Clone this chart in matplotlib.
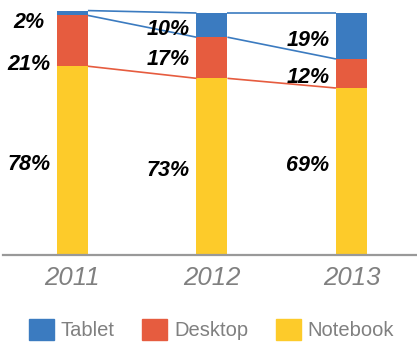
import matplotlib.pyplot as plt
import numpy as np
from matplotlib.patches import Patch

# Share of devices per year (%)
years = ['2011', '2012', '2013']
notebook = [78, 73, 69]
desktop = [21, 17, 12]
tablet = [2, 10, 19]

colors = {'Tablet': '#3b7bc0', 'Desktop': '#e65c3f', 'Notebook': '#fdcb2a'}
label_font = ['Liberation Sans', 'DejaVu Sans']

fig = plt.figure(figsize=(4.17, 3.42), dpi=100)
ax = fig.add_axes([3 / 417, 87 / 342, 414 / 417, 242 / 342])

x = np.arange(len(years))
w = 0.222
nb = np.array(notebook)
dt = np.array(desktop)
tb = np.array(tablet)

ax.bar(x, nb, w, color=colors['Notebook'], clip_on=False)
ax.bar(x, dt, w, bottom=nb, color=colors['Desktop'], clip_on=False)
ax.bar(x, tb, w, bottom=nb + dt, color=colors['Tablet'], clip_on=False)

# series lines between neighbouring bars
for level, c in [(nb, colors['Desktop']), (nb + dt, colors['Tablet']), (nb + dt + tb, colors['Tablet'])]:
    for i in range(len(x) - 1):
        ax.plot([x[i] + w / 2, x[i + 1] - w / 2], [level[i], level[i + 1]],
                color=c, lw=1.2, solid_capstyle='butt', clip_on=False)

# value labels left of each bar, nudged (points) so they don't collide
nudge = {(0, 'tb'): -7, (0, 'dt'): -17, (1, 'dt'): -1, (2, 'nb'): 4}
for i in range(len(x)):
    segs = [('nb', 0, nb[i]), ('dt', nb[i], dt[i]), ('tb', nb[i] + dt[i], tb[i])]
    for key, bottom, val in segs:
        y = bottom + val / 2
        dy = nudge.get((i, key), -3)
        ax.annotate(f'{val}%', (x[i], y), xytext=(-31.3, dy), textcoords='offset points',
                    ha='center', va='center', fontsize=15.5, fontweight='bold', fontstyle='italic',
                    family=label_font, color='black')

ax.set_xlim(-0.498, 2.47)
ax.set_ylim(0, 100)
for s in ['top', 'right', 'left']:
    ax.spines[s].set_visible(False)
ax.spines['bottom'].set_color('#999999')
ax.spines['bottom'].set_linewidth(1.6)
ax.set_yticks([])
ax.set_xticks(x)
ax.set_xticklabels(years, fontsize=18.5, fontstyle='italic', color='#808080', family=label_font)
ax.tick_params(axis='x', length=0, pad=8)

handles = [Patch(color=colors[k]) for k in ['Tablet', 'Desktop', 'Notebook']]
fig.legend(handles, ['Tablet', 'Desktop', 'Notebook'], loc='center', ncol=3,
           bbox_to_anchor=(0.5 + 3 / 417, 12.5 / 342), frameon=False,
           prop={'family': label_font, 'size': 14.5},
           labelcolor='#808080', handlelength=1.25, handleheight=1.25,
           handletextpad=0.35, columnspacing=1.35, borderpad=0)

fig.savefig('out.png', dpi=100)
